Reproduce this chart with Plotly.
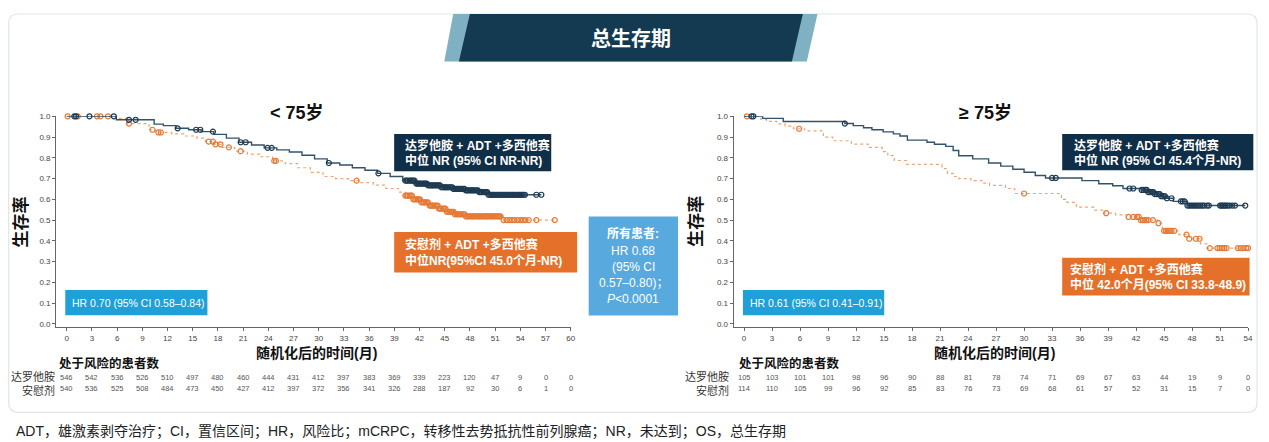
import numpy as np
import plotly.graph_objects as go

# page body has an 8px margin, so the figure is drawn 8px smaller and shifted
OFF = 8
W, H = 1261, 434

# ---- data ----
left_ticks = [0, 3, 6, 9, 12, 15, 18, 21, 24, 27, 30, 33, 36, 39, 42, 45, 48, 51, 54, 57, 60]
right_ticks = [0, 3, 6, 9, 12, 15, 18, 21, 24, 27, 30, 33, 36, 39, 42, 45, 48, 51, 54]
y_ticks = [0.0, 0.1, 0.2, 0.3, 0.4, 0.5, 0.6, 0.7, 0.8, 0.9, 1.0]

left_daro_risk = [546, 542, 536, 526, 510, 497, 480, 460, 444, 431, 412, 397, 383, 369, 339, 223, 120, 47, 9, 0, 0]
left_pbo_risk = [540, 536, 525, 508, 484, 473, 450, 427, 412, 397, 372, 356, 341, 326, 288, 187, 92, 30, 6, 1, 0]
right_daro_risk = [105, 103, 101, 101, 98, 96, 90, 88, 81, 78, 74, 71, 69, 67, 63, 44, 19, 9, 0]
right_pbo_risk = [114, 110, 105, 99, 96, 92, 85, 83, 76, 73, 69, 68, 61, 57, 52, 31, 15, 7, 0]

# < 75岁  达罗他胺
l_daro_t = [0, 5.9, 10.4, 11.5, 13.0, 14.5, 16.0, 17.5, 19.0, 20.5, 22.0, 23.5, 25.0, 26.5, 28.0,
            29.5, 31.0, 32.5, 34.0, 35.5, 37.0, 38.5, 40.0, 41.5, 43.0, 44.5, 46.0, 47.5, 49.0, 50.2, 56.5]
l_daro_s = [1.0, 0.983, 0.962, 0.955, 0.942, 0.935, 0.926, 0.913, 0.895, 0.875, 0.862, 0.848, 0.838, 0.828, 0.812,
            0.795, 0.775, 0.765, 0.752, 0.740, 0.725, 0.710, 0.690, 0.676, 0.667, 0.658, 0.650, 0.643, 0.635, 0.622, 0.622]
l_daro_c = [0.9, 1.1, 2.7, 5.6, 7.4, 8.2, 13.2, 15.4, 15.9, 17.4, 20.7, 21.3, 23.9, 24.4, 31.2, 37.1,
            40.3, 40.45, 40.6, 40.8, 40.95, 41.1, 41.25, 41.4, 41.6, 41.75, 41.9, 42.05, 42.2, 42.4, 42.55,
            42.7, 42.85, 43.0, 43.2, 43.35, 43.5, 43.65, 43.8, 44.0, 44.15, 44.3, 44.45, 44.6, 44.8, 44.95,
            45.1, 45.25, 45.4, 45.6, 45.75, 45.9, 46.05, 46.2, 46.4, 46.55, 46.7, 46.85, 47.0, 47.2, 47.35,
            47.5, 47.65, 47.8, 48.0, 48.15, 48.3, 48.45, 48.6, 48.8, 48.95, 49.1, 49.25, 49.4, 49.6, 49.75,
            49.9, 50.05, 50.2, 50.4, 50.55, 50.7, 50.85, 51.0, 51.2, 51.35, 51.5, 51.65, 51.8, 52.0, 52.15,
            52.3, 52.45, 52.6, 52.8, 52.95, 53.1, 53.25, 53.4, 53.6, 53.75, 53.9, 54.05, 54.2, 54.4, 54.55,
            55.9, 56.5]

# < 75岁  安慰剂
l_pbo_t = [0, 5.8, 7.2, 9.8, 10.6, 12.5, 14.0, 15.5, 16.5, 17.5, 18.5, 20.0, 21.5, 23.0, 24.5, 26.0,
           27.5, 29.0, 30.5, 32.0, 33.5, 35.0, 36.5, 38.0, 39.5, 40.3, 41.2, 42.2, 43.2, 44.2, 45.2, 46.2,
           47.4, 51.9, 58.1]
l_pbo_s = [1.0, 0.99, 0.965, 0.935, 0.922, 0.915, 0.905, 0.895, 0.878, 0.865, 0.850, 0.832, 0.818, 0.805,
           0.785, 0.772, 0.752, 0.730, 0.710, 0.700, 0.690, 0.680, 0.668, 0.652, 0.635, 0.618, 0.600, 0.585,
           0.570, 0.555, 0.540, 0.528, 0.518, 0.500, 0.500]
l_pbo_c = [0.1, 1.3, 3.6, 4.0, 4.9, 7.4, 10.2, 10.9, 11.2, 16.9, 17.4, 17.7, 18.3, 19.3, 20.7, 24.7, 24.9,
           34.5, 40.3, 40.45, 40.6, 40.8, 40.95, 41.1, 41.25, 41.4, 41.6, 41.75, 41.9, 42.05, 42.2, 42.4,
           42.55, 42.7, 42.85, 43.0, 43.2, 43.35, 43.5, 43.65, 43.8, 44.0, 44.15, 44.3, 44.45, 44.6, 44.8,
           44.95, 45.1, 45.25, 45.4, 45.6, 45.75, 45.9, 46.05, 46.2, 46.4, 46.55, 46.7, 46.85, 47.0, 47.2,
           47.35, 47.5, 47.65, 47.8, 48.0, 48.15, 48.3, 48.45, 48.6, 48.8, 48.95, 49.1, 49.25, 49.4, 49.6,
           49.75, 49.9, 50.05, 50.2, 50.4, 50.55, 50.7, 50.85, 51.0, 51.2, 51.35, 51.5, 51.65,
           52.0, 52.35, 52.7, 53.0, 53.3, 53.65, 54.0, 54.3, 54.6, 55.0, 55.9, 58.1]

# ≥ 75岁  达罗他胺
r_daro_t = [0, 2.0, 4.2, 10.8, 11.7, 12.8, 13.7, 14.9, 16.0, 16.7, 17.5, 19.6, 20.4, 21.6, 22.4, 23.0,
            24.5, 26.2, 27.5, 28.8, 30.0, 31.2, 32.3, 36.2, 38.0, 39.5, 40.6, 42.6, 43.3, 44.0, 44.7, 45.3,
            46.0, 47.5, 53.7]
r_daro_s = [1.0, 0.99, 0.975, 0.965, 0.955, 0.945, 0.935, 0.925, 0.915, 0.905, 0.885, 0.875, 0.865, 0.855,
            0.835, 0.81, 0.795, 0.775, 0.76, 0.745, 0.73, 0.715, 0.703, 0.69, 0.675, 0.665, 0.652, 0.645,
            0.635, 0.625, 0.615, 0.605, 0.59, 0.57, 0.57]
r_daro_c = [0.8, 1.0, 10.8, 33.0, 33.4, 41.3, 41.7, 42.6, 42.8, 43.0, 43.15, 43.3, 43.5, 43.7, 43.85, 44.0,
            44.2, 44.4, 44.55, 44.7, 44.9, 45.1, 45.3, 45.8, 46.8, 47.0, 47.2, 47.5, 47.7, 47.9, 48.1, 48.3,
            48.5, 48.7, 48.9, 49.1, 49.3, 49.6, 49.8, 51.0, 51.15, 51.3, 51.45, 51.6, 51.8, 52.0, 52.3, 52.6,
            53.7]

# ≥ 75岁  安慰剂
r_pbo_t = [0, 1.8, 2.4, 3.5, 4.4, 5.3, 6.5, 8.5, 9.5, 11.5, 13.3, 14.8, 15.4, 16.1, 17.4, 21.2, 21.8,
           22.4, 23.0, 24.3, 25.5, 26.3, 28.0, 29.0, 34.0, 34.6, 35.6, 37.5, 38.5, 39.8, 41.0, 42.5, 44.3,
           44.8, 46.6, 47.7, 48.9, 49.6, 54.0]
r_pbo_s = [1.0, 0.985, 0.975, 0.963, 0.953, 0.94, 0.93, 0.90, 0.882, 0.866, 0.85, 0.83, 0.81, 0.787, 0.768,
           0.748, 0.725, 0.71, 0.70, 0.69, 0.678, 0.667, 0.652, 0.628, 0.60, 0.585, 0.562, 0.548, 0.533,
           0.525, 0.515, 0.50, 0.485, 0.448, 0.43, 0.41, 0.385, 0.365, 0.365]
r_pbo_c = [0.3, 5.9, 30.0, 38.8, 41.2, 41.7, 42.1, 42.3, 42.5, 42.7, 42.9, 43.1, 43.3, 43.8, 44.4, 45.0,
           45.2, 45.4, 45.6, 45.8, 46.1, 47.4, 47.7, 48.4, 48.8, 49.9, 50.7, 50.95, 51.2, 51.45, 51.7, 52.9,
           53.2, 53.5, 53.8, 54.0]

NAVY_LINE = "#34536b"
NAVY_MK = "#1d3a52"
ORG_LINE = "#eba57a"
ORG_MK = "#e47a35"
NAVY_BOX = "#0f2e48"
ORG_BOX = "#e5702a"
HR_BOX = "#1fa0d8"
ALL_BOX = "#57a9de"
LATIN = "Liberation Sans, Noto Sans CJK SC"
NARROW = "Liberation Sans Narrow, Liberation Sans, Noto Sans CJK SC"


def px(x):
    return (x - OFF) / W


def py(y):
    return 1 - (y - OFF) / H


def on_curve(t, s, c):
    idx = np.searchsorted(np.array(t), np.array(c), side="right") - 1
    return np.array(s)[idx]


fig = go.Figure()


def add_km(t, s, c, xa, ya, lcol, mcol, dash):
    fig.add_trace(go.Scatter(x=t, y=s, mode="lines", line_shape="hv", xaxis=xa, yaxis=ya,
                             line=dict(color=lcol, width=1.4 if dash == "solid" else 1.2, dash=dash),
                             hoverinfo="skip", cliponaxis=False))
    fig.add_trace(go.Scatter(x=c, y=on_curve(t, s, c), mode="markers", xaxis=xa, yaxis=ya,
                             marker=dict(symbol="circle-open", size=5, color=mcol, line=dict(width=1.2, color=mcol)),
                             hoverinfo="skip", cliponaxis=False))


add_km(l_pbo_t, l_pbo_s, l_pbo_c, "x", "y", ORG_LINE, ORG_MK, "dot")
add_km(l_daro_t, l_daro_s, l_daro_c, "x", "y", NAVY_LINE, NAVY_MK, "solid")
add_km(r_pbo_t, r_pbo_s, r_pbo_c, "x2", "y2", ORG_LINE, ORG_MK, "dot")
add_km(r_daro_t, r_daro_s, r_daro_c, "x2", "y2", NAVY_LINE, NAVY_MK, "solid")

axis_common = dict(ticks="outside", ticklen=3, tickwidth=1, tickcolor="#666", showline=True,
                   linecolor="#666", linewidth=1, showgrid=False, zeroline=False,
                   tickfont=dict(family=NARROW, size=8, color="#444"), fixedrange=True)

fig.update_layout(
    width=W, height=H, margin=dict(l=0, r=0, t=0, b=0),
    paper_bgcolor="white", plot_bgcolor="rgba(0,0,0,0)", showlegend=False,
    xaxis=dict(domain=[px(56.3), px(573)], range=[-1.27, 60], tickvals=left_ticks, anchor="y", **axis_common),
    yaxis=dict(domain=[py(327), py(113.5)], range=[-0.0167, 1.0], tickvals=y_ticks,
               tickformat=".1f", anchor="x", **axis_common),
    xaxis2=dict(domain=[px(736.5), px(1253)], range=[-1.12, 54], tickvals=right_ticks, anchor="y2", **axis_common),
    yaxis2=dict(domain=[py(327), py(113.5)], range=[-0.0167, 1.0], tickvals=y_ticks,
                tickformat=".1f", anchor="x2", **axis_common),
)

shapes = []
annots = []


def rect(x0, y0, x1, y1, color, layer="above"):
    shapes.append(dict(type="rect", xref="paper", yref="paper", x0=px(x0), x1=px(x1), y0=py(y1), y1=py(y0),
                       fillcolor=color, line=dict(width=0), layer=layer))


def poly(pts, color, layer="below"):
    path = "M " + " L ".join(f"{px(a):.5f},{py(b):.5f}" for a, b in pts) + " Z"
    shapes.append(dict(type="path", xref="paper", yref="paper", path=path, fillcolor=color,
                       line=dict(width=0), layer=layer))


def text(x, y, s, size, color="#111", bold=False, family=LATIN, xanchor="left", xref="paper"):
    if bold:
        s = f"<b>{s}</b>"
    annots.append(dict(x=x if xref != "paper" else px(x), y=py(y), xref=xref, yref="paper", text=s,
                       showarrow=False, xanchor=xanchor, yanchor="middle",
                       font=dict(family=family, size=size, color=color)))


# card with rounded corners
r = 10
x0c, y0c, x1c, y1c = 8.7, 10, 1262, 413
card = (f"M {px(x0c + r)},{py(y0c)} L {px(x1c - r)},{py(y0c)} Q {px(x1c)},{py(y0c)} {px(x1c)},{py(y0c + r)} "
        f"L {px(x1c)},{py(y1c - r)} Q {px(x1c)},{py(y1c)} {px(x1c - r)},{py(y1c)} "
        f"L {px(x0c + r)},{py(y1c)} Q {px(x0c)},{py(y1c)} {px(x0c)},{py(y1c - r)} "
        f"L {px(x0c)},{py(y0c + r)} Q {px(x0c)},{py(y0c)} {px(x0c + r)},{py(y0c)} Z")
shapes.append(dict(type="path", xref="paper", yref="paper", path=card, fillcolor="white",
                   line=dict(color="#e1e5e8", width=1.2), layer="below"))

# banner
poly([(455, 10), (820.7, 10), (810, 58), (446, 58)], "#7fb1c3")
poly([(471.7, 10), (806, 10), (795, 58), (460.7, 58)], "#133a51")
text(633, 34, "总生存期", 20, "white", True, "Noto Sans CJK SC", "center")

# subplot titles
text(298, 110, "< 75岁", 18, "#111", True, LATIN, "center")
text(989, 110, "≥ 75岁", 18, "#111", True, LATIN, "center")

# y titles
for xx in (20, 697):
    annots.append(dict(x=px(xx), y=py(220), xref="paper", yref="paper", text="<b>生存率</b>", textangle=-90,
                       showarrow=False, xanchor="center", yanchor="middle",
                       font=dict(family="Noto Sans CJK SC", size=17, color="#111")))

# x titles
text(318, 353, "随机化后的时间(月)", 14, "#111", True, LATIN, "center")
text(998, 353, "随机化后的时间(月)", 14, "#111", True, LATIN, "center")

# legend boxes, left
rect(395.7, 131.5, 553.4, 169.2, NAVY_BOX)
text(405, 143, "达罗他胺 + ADT +多西他赛", 12, "white", True)
text(405, 158, "中位 NR (95% CI NR-NR)", 12, "white", True)
rect(395.7, 230.5, 579.4, 271.5, ORG_BOX)
text(405, 243, "安慰剂 + ADT +多西他赛", 12, "white", True)
text(405, 259, "中位NR(95%CI 45.0个月-NR)", 12, "white", True)
rect(65.5, 289.2, 208.2, 314.8, HR_BOX)
text(70.5, 302, "HR 0.70 (95% CI 0.58–0.84)", 10.5, "white", False, NARROW)

# legend boxes, right
rect(1066.4, 131.5, 1258.3, 168.2, NAVY_BOX)
text(1076, 143, "达罗他胺 + ADT +多西他赛", 12, "white", True)
text(1076, 158, "中位 NR (95% CI 45.4个月-NR)", 12, "white", True)
rect(1066.4, 256.5, 1254.5, 294.8, ORG_BOX)
text(1072, 268, "安慰剂 + ADT +多西他赛", 12, "white", True)
text(1072, 284, "中位 42.0个月(95% CI 33.8-48.9)", 12, "white", True)
rect(745.9, 289.2, 887.7, 314.8, HR_BOX)
text(750.5, 302, "HR 0.61 (95% CI 0.41–0.91)", 10.5, "white", False, NARROW)

# all-patients box
rect(591, 215, 680.7, 315, ALL_BOX)
text(635.7, 231.7, "所有患者:", 12, "white", True, LATIN, "center")
text(635.7, 249.5, "HR 0.68", 12, "white", False, LATIN, "center")
text(635.7, 265.5, "(95% CI", 12, "white", False, LATIN, "center")
text(635.7, 282, "0.57–0.80)；", 12, "white", False, LATIN, "center")
text(635.7, 298.5, "<i>P</i><0.0001", 12, "white", False, LATIN, "center")

# risk tables
text(57, 363, "处于风险的患者数", 12.5, "#111", True, "Noto Sans CJK SC")
text(740, 363, "处于风险的患者数", 12.5, "#111", True, "Noto Sans CJK SC")
for xr_lab in (57.5, 734):
    text(xr_lab, 376, "达罗他胺", 11, "#333", False, "Noto Sans CJK SC", "right")
    text(xr_lab, 390, "安慰剂", 11, "#333", False, "Noto Sans CJK SC", "right")
for ticks, rows, xr in ((left_ticks, (left_daro_risk, left_pbo_risk), "x"),
                        (right_ticks, (right_daro_risk, right_pbo_risk), "x2")):
    for vals, yy in zip(rows, (378, 389)):
        for t, v in zip(ticks, vals):
            text(t, yy, str(v), 7.5, "#555", False, NARROW, "center", xref=xr)

# footnote
text(14, 432, "ADT，雄激素剥夺治疗；CI，置信区间；HR，风险比；mCRPC，转移性去势抵抗性前列腺癌；NR，未达到；OS，总生存期",
     14, "#222", False, LATIN)

fig.update_layout(shapes=shapes, annotations=annots)
fig.write_html("out.html")
